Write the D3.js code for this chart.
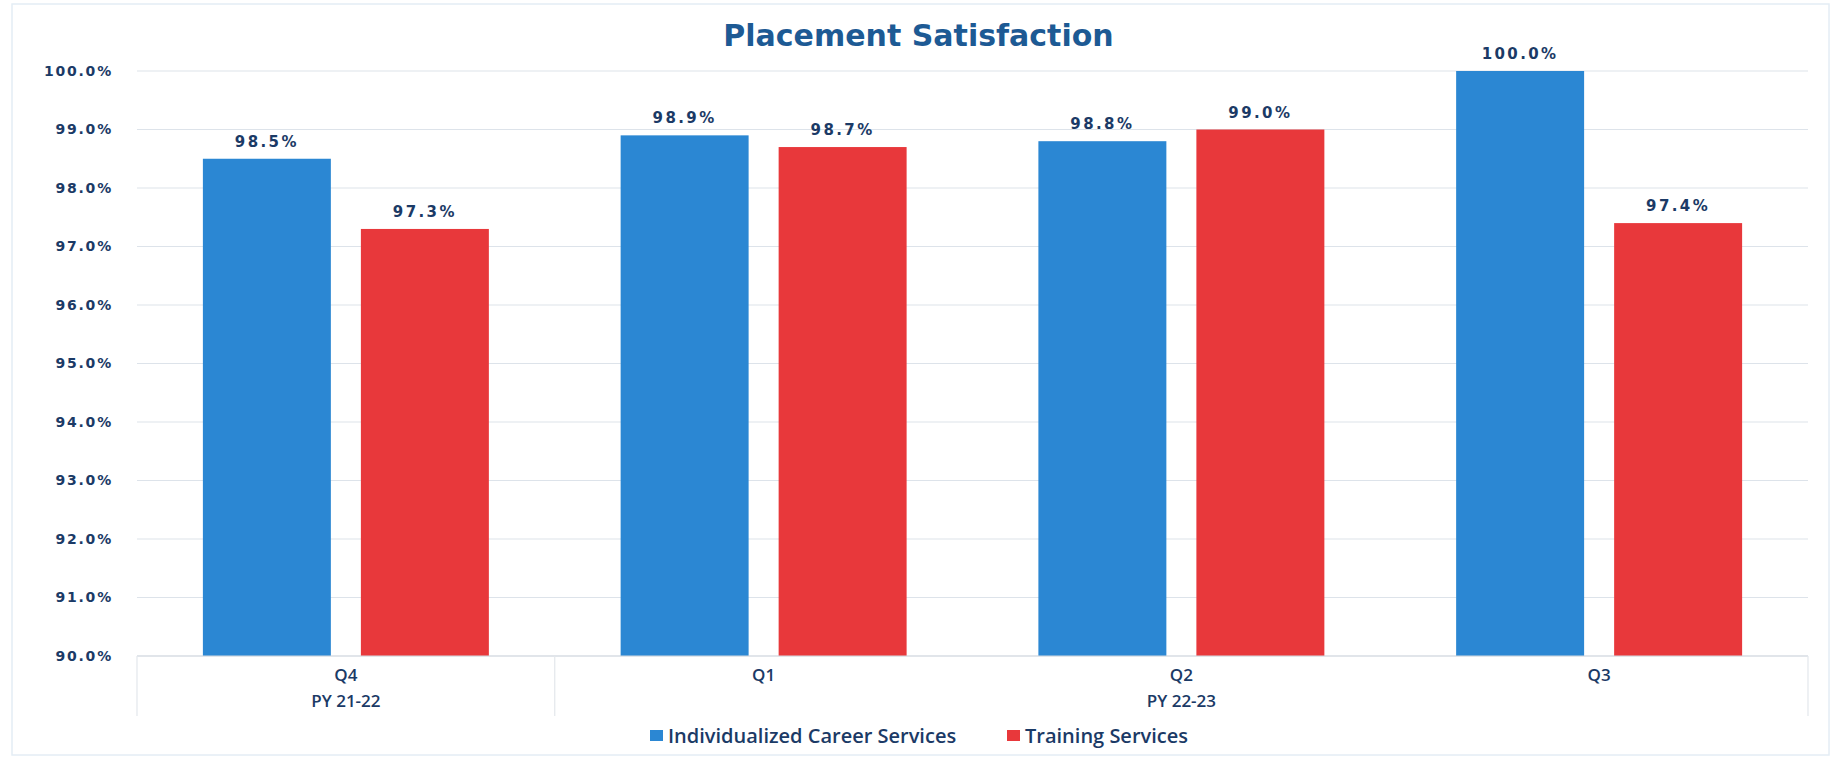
<!DOCTYPE html>
<html>
<head>
<meta charset="utf-8">
<script src="https://cdn.jsdelivr.net/npm/d3@7"></script>
<style>
  body { margin: 0; background: #fff; }
  svg { display: block; }
</style>
</head>
<body>
<svg id="chart"></svg>
<script>
// chart data
var quarters = ["Q4", "Q1", "Q2", "Q3"];
var years = [
    {label: "PY 21-22", from: 0, to: 0},
    {label: "PY 22-23", from: 1, to: 3}
];
var seriesNames = ["Individualized Career Services", "Training Services"];
var careerValues = [0.985, 0.989, 0.988, 1.000];
var trainingValues = [0.973, 0.987, 0.990, 0.974];
var yTicks = [0.90, 0.91, 0.92, 0.93, 0.94, 0.95, 0.96, 0.97, 0.98, 0.99, 1.00];
var seriesColors = ["#2b87d3", "#e8383b"];

var width = 1841, height = 759;
var margin = {top: 71, right: 33, bottom: 103, left: 137};

var svg = d3.select("#chart").attr("width", width).attr("height", height);

// faint outer frame
svg.append("rect")
    .attr("x", 12).attr("y", 4)
    .attr("width", width - 24).attr("height", height - 8)
    .attr("fill", "none").attr("stroke", "#e4edf5").attr("stroke-width", 1.5);

var x0 = d3.scaleBand()
    .domain(quarters)
    .range([margin.left, width - margin.right]);

var x1 = d3.scaleBand()
    .domain(seriesNames)
    .range([0, x0.bandwidth()])
    .paddingInner(0.19)
    .paddingOuter(0.417);

var y = d3.scaleLinear()
    .domain([0.9, 1.0])
    .range([height - margin.bottom, margin.top]);

var pct = d3.format(".1%");
var navy = "#1b3a66";

// gridlines
svg.append("g")
    .selectAll("line")
    .data(yTicks)
    .join("line")
    .attr("x1", margin.left).attr("x2", width - margin.right)
    .attr("y1", function (d) { return y(d); })
    .attr("y2", function (d) { return y(d); })
    .attr("stroke", "#dde3ea")
    .attr("stroke-width", 1.2);

// y axis labels
var yAxis = d3.axisLeft(y).tickValues(yTicks).tickFormat(pct).tickSize(0).tickPadding(24);
var yg = svg.append("g")
    .attr("transform", "translate(" + margin.left + ",0)")
    .call(yAxis);
yg.select(".domain").remove();
yg.selectAll("text")
    .attr("fill", navy)
    .style("font-family", "DejaVu Sans")
    .style("font-weight", "bold")
    .style("font-size", "14px")
    .style("letter-spacing", "1.8px");

// bars
var rows = quarters.map(function (q, i) {
    return {q: q, values: [careerValues[i], trainingValues[i]]};
});

var groups = svg.append("g")
    .selectAll("g")
    .data(rows)
    .join("g")
    .attr("transform", function (d) { return "translate(" + x0(d.q) + ",0)"; });

groups.selectAll("rect")
    .data(function (d) {
        return d.values.map(function (v, j) { return {name: seriesNames[j], value: v, idx: j}; });
    })
    .join("rect")
    .attr("x", function (d) { return x1(d.name); })
    .attr("y", function (d) { return y(d.value); })
    .attr("width", x1.bandwidth())
    .attr("height", function (d) { return y(0.9) - y(d.value); })
    .attr("fill", function (d) { return seriesColors[d.idx]; });

groups.selectAll("text")
    .data(function (d) {
        return d.values.map(function (v, j) { return {name: seriesNames[j], value: v}; });
    })
    .join("text")
    .attr("x", function (d) { return x1(d.name) + x1.bandwidth() / 2; })
    .attr("y", function (d) { return y(d.value) - 12; })
    .attr("text-anchor", "middle")
    .attr("fill", navy)
    .style("font-family", "DejaVu Sans")
    .style("font-weight", "bold")
    .style("font-size", "15px")
    .style("letter-spacing", "2.4px")
    .text(function (d) { return pct(d.value); });

// category axis box
var axisTop = y(0.9);
var rowMid = axisTop + 43;
var axisBottom = axisTop + 60;
var boxColor = "#e3e7ec";
var ax = svg.append("g");

ax.append("line")
    .attr("x1", margin.left).attr("x2", width - margin.right)
    .attr("y1", axisTop).attr("y2", axisTop)
    .attr("stroke", "#d3d9e0").attr("stroke-width", 1.2);

// vertical separators only at year group edges
var edges = years.map(function (g) { return x0(quarters[g.from]); })
    .concat([width - margin.right]);
ax.selectAll("line.q")
    .data(edges)
    .join("line")
    .attr("class", "q")
    .attr("x1", function (d) { return d; })
    .attr("x2", function (d) { return d; })
    .attr("y1", axisTop)
    .attr("y2", axisBottom)
    .attr("stroke", boxColor).attr("stroke-width", 1.2);

ax.selectAll("text.q")
    .data(quarters)
    .join("text")
    .attr("class", "q")
    .attr("x", function (d) { return x0(d) + x0.bandwidth() / 2; })
    .attr("y", axisTop + 25)
    .attr("text-anchor", "middle")
    .attr("fill", navy)
    .style("font-family", "Open Sans")
    .style("font-weight", "600")
    .style("font-size", "17px")
    .text(function (d) { return d; });

ax.selectAll("text.y")
    .data(years)
    .join("text")
    .attr("class", "y")
    .attr("x", function (d) {
        return (x0(quarters[d.from]) + x0(quarters[d.to]) + x0.bandwidth()) / 2;
    })
    .attr("y", rowMid + 8)
    .attr("text-anchor", "middle")
    .attr("fill", navy)
    .style("font-family", "Open Sans")
    .style("font-weight", "600")
    .style("font-size", "17px")
    .text(function (d) { return d.label; });

// title
svg.append("text")
    .attr("x", width / 2 - 2)
    .attr("y", 46)
    .attr("text-anchor", "middle")
    .attr("fill", "#1d5a94")
    .style("font-family", "DejaVu Sans")
    .style("font-weight", "bold")
    .style("font-size", "30px")
    .text("Placement Satisfaction");

// legend
var legend = svg.append("g").attr("transform", "translate(0," + 736 + ")");
var legendX = [650, 1007];
seriesNames.forEach(function (name, i) {
    var lg = legend.append("g").attr("transform", "translate(" + legendX[i] + ",0)");
    lg.append("rect")
        .attr("x", 0).attr("y", -6)
        .attr("width", 13).attr("height", 11)
        .attr("fill", seriesColors[i]);
    lg.append("text")
        .attr("x", 18).attr("y", 7)
        .attr("fill", navy)
        .style("font-family", "Open Sans")
        .style("font-weight", "600")
        .style("font-size", "20px")
        .text(name);
});
</script>
</body>
</html>
